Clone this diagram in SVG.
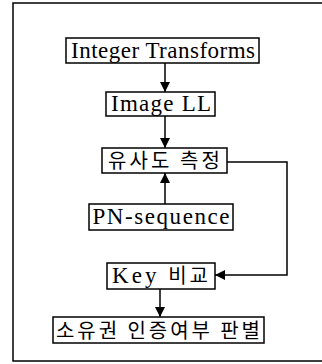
<svg xmlns="http://www.w3.org/2000/svg" width="322" height="364" viewBox="0 0 322 364">
<defs>
<marker id="ah" viewBox="0 0 10 10" refX="10" refY="5" markerWidth="10" markerHeight="14" markerUnits="userSpaceOnUse" orient="auto">
<path d="M0,0 L10,5 L0,10 Z" fill="#000"/>
</marker>
<style>
.box{fill:#fff;stroke:#000;stroke-width:1.5}
.t{font-family:"Liberation Serif","Noto Sans CJK KR",serif;font-size:23px;fill:#000;text-anchor:middle}
.k{font-family:"Noto Sans CJK KR","Liberation Serif",sans-serif;font-size:20px;fill:#000;text-anchor:middle}
.c{fill:none;stroke:#000;stroke-width:1.5}
</style>
</defs>
<rect x="13" y="3" width="320" height="358" fill="none" stroke="#000" stroke-width="1.5"/>
<g id="connectors">
<line class="c" x1="165" y1="63" x2="165" y2="92" marker-end="url(#ah)"/>
<line class="c" x1="165" y1="116" x2="165" y2="148" marker-end="url(#ah)"/>
<line class="c" x1="165" y1="204" x2="165" y2="173" marker-end="url(#ah)"/>
<line class="c" x1="160" y1="289" x2="160" y2="317" marker-end="url(#ah)"/>
<polyline class="c" points="227,162 287,162 287,275 215,275" marker-end="url(#ah)"/>
</g>
<g id="n1"><rect class="box" x="66" y="38" width="193" height="25"/><text class="t" x="163" y="58" textLength="184" lengthAdjust="spacing">Integer Transforms</text></g>
<g id="n2"><rect class="box" x="106" y="92" width="109" height="24"/><text class="t" x="161" y="111" textLength="100" lengthAdjust="spacing">Image LL</text></g>
<g id="n3"><rect class="box" x="102" y="148" width="125" height="25"/><text class="k" x="164" y="168" textLength="112" lengthAdjust="spacing">유사도 측정</text></g>
<g id="n4"><rect class="box" x="89" y="204" width="144" height="26"/><text class="t" x="161" y="224" textLength="137" lengthAdjust="spacing">PN-sequence</text></g>
<g id="n5"><rect class="box" x="107" y="263" width="108" height="26"/><text class="t" x="160" y="283" textLength="96" lengthAdjust="spacing">Key <tspan font-family="Noto Sans CJK KR" font-size="20">비교</tspan></text></g>
<g id="n6"><rect class="box" x="53" y="317" width="211" height="26"/><text class="k" x="158" y="338" textLength="204" lengthAdjust="spacing">소유권 인증여부 판별</text></g>
</svg>
